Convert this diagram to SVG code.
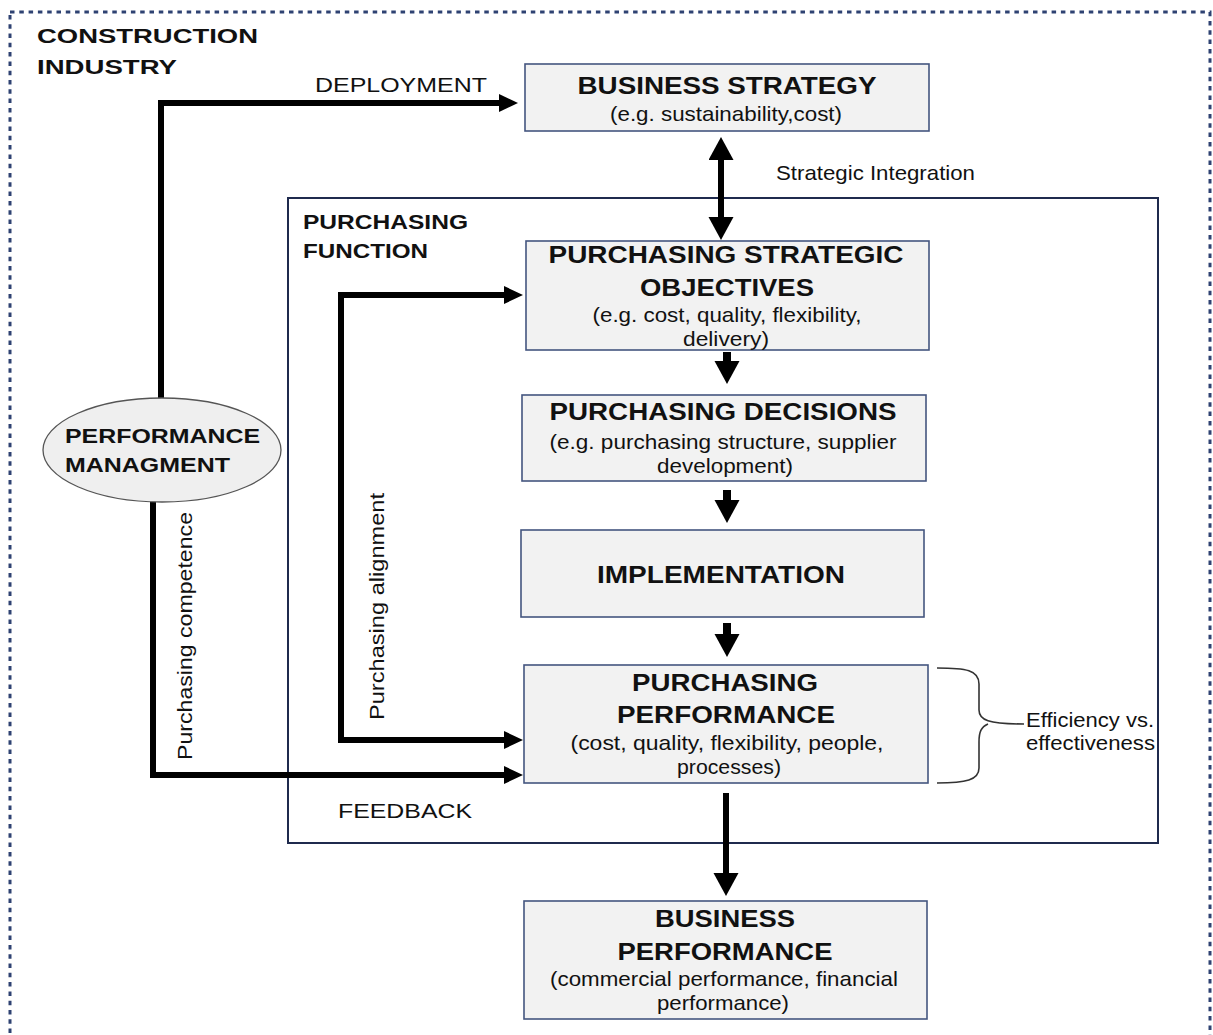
<svg xmlns="http://www.w3.org/2000/svg" width="1213" height="1035" viewBox="0 0 1213 1035">
  <style>
    text { font-family: "Liberation Sans", Arial, sans-serif; fill: #111; }
    .t { font-size: 24px; font-weight: bold; text-anchor: middle; }
    .s { font-size: 21px; text-anchor: middle; }
    .lb { font-size: 21px; font-weight: bold; }
    .lr { font-size: 21px; }
    .box { fill: #F2F2F2; stroke: #44557F; stroke-width: 1.6; }
    .conn { fill: none; stroke: #000; stroke-width: 6; }
    .block { fill: none; stroke: #000; stroke-width: 8; }
  </style>
  <defs>
    <marker id="headH" markerUnits="userSpaceOnUse" markerWidth="19" markerHeight="19" refX="0" refY="9" orient="auto-start-reverse" viewBox="0 0 19 19">
      <path d="M0,0 L19,9 L0,18 z" fill="#000"/>
    </marker>
    <marker id="headV" markerUnits="userSpaceOnUse" markerWidth="24" markerHeight="26" refX="0" refY="12.5" orient="auto-start-reverse" viewBox="0 0 24 26">
      <path d="M0,0 L23,12.5 L0,25 z" fill="#000"/>
    </marker>
  </defs>

  <!-- industry boundary -->
  <g id="construction-industry">
    <rect x="10" y="12" width="1200" height="1045" fill="none" stroke="#2E4272" stroke-width="3" stroke-dasharray="4.5 4.8"/>
    <text class="lb" x="37" y="43" font-size="23" textLength="221" lengthAdjust="spacingAndGlyphs">CONSTRUCTION</text>
    <text class="lb" x="37" y="74" font-size="23" textLength="140" lengthAdjust="spacingAndGlyphs">INDUSTRY</text>
  </g>

  <!-- purchasing function frame -->
  <g id="purchasing-function">
    <rect x="288" y="198" width="870" height="645" fill="none" stroke="#1F2A4D" stroke-width="2"/>
    <text class="lb" x="303" y="229" textLength="165" lengthAdjust="spacingAndGlyphs">PURCHASING</text>
    <text class="lb" x="303" y="258" textLength="125" lengthAdjust="spacingAndGlyphs">FUNCTION</text>
  </g>

  <!-- connectors -->
  <g id="connectors">
    <!-- deployment -->
    <path class="conn" d="M161,400 L161,103 L499,103" marker-end="url(#headH)"/>
    <!-- feedback -->
    <path class="conn" d="M153,500 L153,775 L504,775" marker-end="url(#headH)"/>
    <!-- purchasing alignment -->
    <path class="conn" d="M504,295 L341,295 L341,740 L504,740" marker-start="url(#headH)" marker-end="url(#headH)"/>
    <!-- strategic integration -->
    <path class="conn" d="M721,160 L721,217" stroke-width="7" marker-start="url(#headV)" marker-end="url(#headV)"/>
    <!-- main flow -->
    <path class="block" d="M727,352 L727,361" marker-end="url(#headV)"/>
    <path class="block" d="M727,490 L727,500" marker-end="url(#headV)"/>
    <path class="block" d="M727,623 L727,634" marker-end="url(#headV)"/>
    <path class="conn" d="M726,793 L726,873" stroke-width="7" marker-end="url(#headV)"/>
    <!-- brace -->
    <path d="M937,668 C966,668 979,670 979,684 L979,710 C979,720 988,724 1024,724 M988,724 C981,727 979,732 979,742 L979,768 C979,780 966,783 937,783" fill="none" stroke="#333" stroke-width="1.6"/>
  </g>

  <!-- connector labels -->
  <g id="labels">
    <text class="lr" x="315" y="92" textLength="172" lengthAdjust="spacingAndGlyphs">DEPLOYMENT</text>
    <text class="lr" x="776" y="180" font-size="20" textLength="199" lengthAdjust="spacingAndGlyphs">Strategic Integration</text>
    <text class="lr" x="338" y="818" textLength="134" lengthAdjust="spacingAndGlyphs">FEEDBACK</text>
    <text class="lr" transform="translate(192,760) rotate(-90)" textLength="248" lengthAdjust="spacingAndGlyphs">Purchasing competence</text>
    <text class="lr" transform="translate(384,720) rotate(-90)" textLength="227" lengthAdjust="spacingAndGlyphs">Purchasing alignment</text>
    <text class="lr" x="1026" y="727" font-size="20" textLength="128" lengthAdjust="spacingAndGlyphs">Efficiency vs.</text>
    <text class="lr" x="1026" y="750" font-size="20" textLength="129" lengthAdjust="spacingAndGlyphs">effectiveness</text>
  </g>

  <g id="performance-management">
    <ellipse cx="162" cy="450" rx="119" ry="52" fill="#EFEFEF" stroke="#555" stroke-width="1.3"/>
    <text class="lb" x="65" y="443" font-size="22" textLength="195" lengthAdjust="spacingAndGlyphs">PERFORMANCE</text>
    <text class="lb" x="65" y="472" font-size="22" textLength="165" lengthAdjust="spacingAndGlyphs">MANAGMENT</text>
  </g>

  <g id="business-strategy">
    <rect class="box" x="525" y="64" width="404" height="67"/>
    <text class="t" x="727" y="94" textLength="299" lengthAdjust="spacingAndGlyphs">BUSINESS STRATEGY</text>
    <text class="s" x="726" y="121" textLength="232" lengthAdjust="spacingAndGlyphs">(e.g. sustainability,cost)</text>
  </g>

  <g id="purchasing-strategic-objectives">
    <rect class="box" x="526" y="241" width="403" height="109"/>
    <text class="t" x="726" y="263" textLength="355" lengthAdjust="spacingAndGlyphs">PURCHASING STRATEGIC</text>
    <text class="t" x="727" y="296" textLength="174" lengthAdjust="spacingAndGlyphs">OBJECTIVES</text>
    <text class="s" x="727" y="322" textLength="269" lengthAdjust="spacingAndGlyphs">(e.g. cost, quality, flexibility,</text>
    <text class="s" x="726" y="346" textLength="86" lengthAdjust="spacingAndGlyphs">delivery)</text>
  </g>

  <g id="purchasing-decisions">
    <rect class="box" x="522" y="395" width="404" height="86"/>
    <text class="t" x="723" y="420" textLength="347" lengthAdjust="spacingAndGlyphs">PURCHASING DECISIONS</text>
    <text class="s" x="723" y="449" textLength="347" lengthAdjust="spacingAndGlyphs">(e.g. purchasing structure, supplier</text>
    <text class="s" x="725" y="473" textLength="136" lengthAdjust="spacingAndGlyphs">development)</text>
  </g>

  <g id="implementation">
    <rect class="box" x="521" y="530" width="403" height="87"/>
    <text class="t" x="721" y="583" textLength="248" lengthAdjust="spacingAndGlyphs">IMPLEMENTATION</text>
  </g>

  <g id="purchasing-performance">
    <rect class="box" x="524" y="665" width="404" height="118"/>
    <text class="t" x="725" y="691" textLength="186" lengthAdjust="spacingAndGlyphs">PURCHASING</text>
    <text class="t" x="726" y="723" textLength="218" lengthAdjust="spacingAndGlyphs">PERFORMANCE</text>
    <text class="s" x="727" y="750" textLength="313" lengthAdjust="spacingAndGlyphs">(cost, quality, flexibility, people,</text>
    <text class="s" x="729" y="774" textLength="104" lengthAdjust="spacingAndGlyphs">processes)</text>
  </g>

  <g id="business-performance">
    <rect class="box" x="524" y="901" width="403" height="118"/>
    <text class="t" x="725" y="927" textLength="140" lengthAdjust="spacingAndGlyphs">BUSINESS</text>
    <text class="t" x="725" y="960" textLength="215" lengthAdjust="spacingAndGlyphs">PERFORMANCE</text>
    <text class="s" x="724" y="986" textLength="348" lengthAdjust="spacingAndGlyphs">(commercial performance, financial</text>
    <text class="s" x="723" y="1010" textLength="132" lengthAdjust="spacingAndGlyphs">performance)</text>
  </g>
</svg>
